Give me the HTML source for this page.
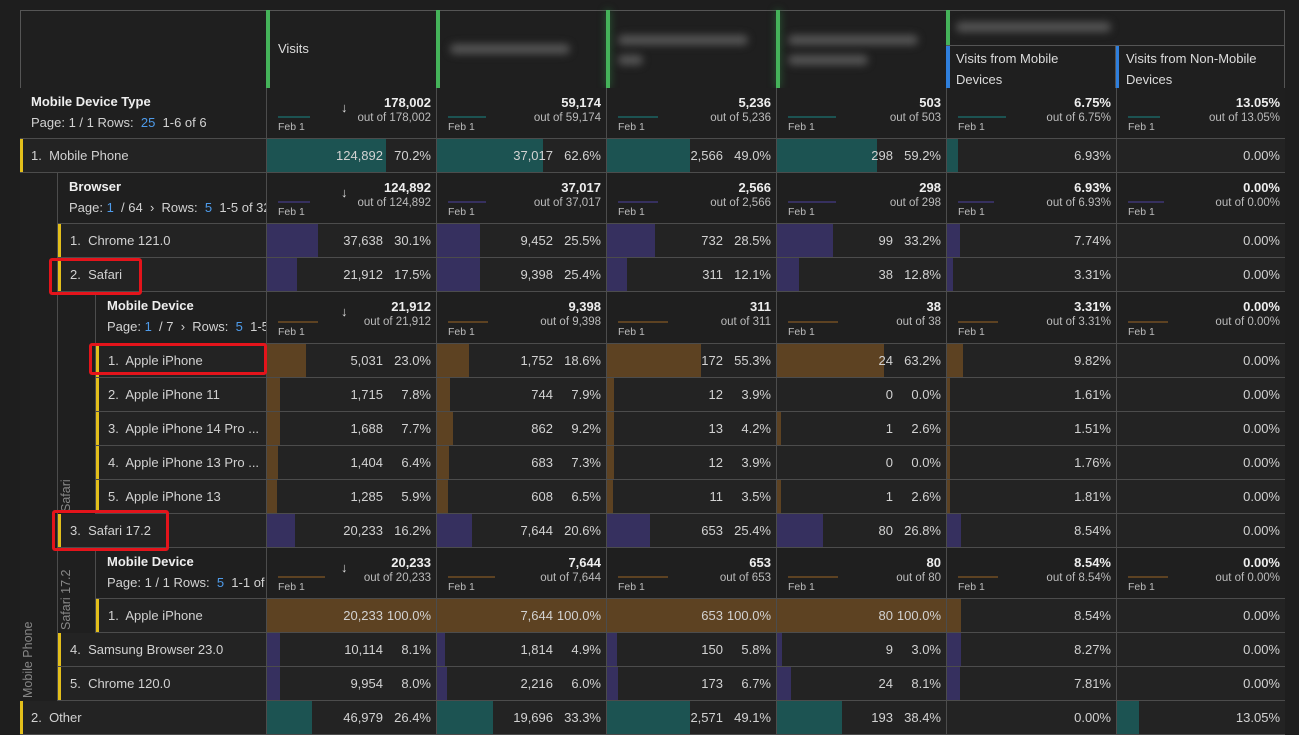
<!DOCTYPE html>
<html><head><meta charset="utf-8"><style>
body{margin:0;width:1299px;height:721px;background:#1e1e1e;overflow:hidden;font-family:"Liberation Sans",sans-serif;color:#d2d2d2;font-size:13px}
.a{position:absolute;box-sizing:border-box}
.row{position:absolute;display:flex;border-bottom:1px solid #4c4c4c;box-sizing:border-box;background:#232323}
.lab{position:relative;box-sizing:border-box;border-left:3px solid #e3bf1b;padding-left:9px;display:flex;align-items:center;white-space:nowrap;overflow:hidden}
.m{position:relative;width:170px;flex:0 0 170px;border-left:1px solid #4c4c4c;box-sizing:border-box;overflow:hidden}
.m:last-child{width:169px;flex-basis:169px}
.b{position:absolute;left:0;top:0;bottom:0}
.v{position:absolute;right:5px;top:0;bottom:0;display:flex;align-items:center;white-space:nowrap}
.v i{font-style:normal;display:inline-block;min-width:48px;text-align:right}
.T .lab{border-left:none;display:block;padding-top:6px}
.T .lab b{display:block;color:#eee;margin-bottom:6px}
.t b{position:absolute;right:5px;top:7px;color:#eee}
.t s{position:absolute;right:5px;top:24px;text-decoration:none;font-size:11.5px;color:#bbb}
.t u{position:absolute;left:11px;bottom:5px;text-decoration:none;font-size:10.5px;color:#bbb}
.t em{position:absolute;left:11px;bottom:20px;height:2px}
.ar{position:absolute;left:74px;top:12px;font-size:13px;color:#ddd;font-style:normal}
.bl{color:#4e9bea}
.tl{background:#1c5352}.pu{background:#36305f}.br{background:#5d4222}
.vt{position:absolute;transform:rotate(-90deg);transform-origin:left top;white-space:nowrap;color:#888;font-size:12.5px}
.red{position:absolute;border:3px solid #e4141b;border-radius:3px;box-sizing:border-box}
.blur{position:absolute;height:10px;background:#555;filter:blur(4px);border-radius:5px}
</style></head><body>
<!-- outer table frame -->
<div class="a" style="left:20px;top:10px;width:1265px;height:711px;border:1px solid #555;border-bottom:none;background:#232323"></div>
<!-- header -->
<div class="a" style="left:20px;top:10px;width:1265px;height:79px;border:1px solid #555;background:#1f1f1f"></div>
<div class="a" style="left:266px;top:10px;width:4px;height:78px;background:#45b35a"></div>
<div class="a" style="left:278px;top:41px;color:#ddd">Visits</div>
<div class="a" style="left:436px;top:10px;width:4px;height:78px;background:#45b35a"></div>
<div class="blur" style="left:450px;top:44px;width:120px"></div>
<div class="a" style="left:606px;top:10px;width:4px;height:78px;background:#45b35a;box-shadow:0 0 8px #2a6a3a"></div>
<div class="blur" style="left:618px;top:35px;width:130px"></div><div class="blur" style="left:618px;top:55px;width:25px"></div>
<div class="a" style="left:776px;top:10px;width:4px;height:78px;background:#45b35a;box-shadow:0 0 8px #2a6a3a"></div>
<div class="blur" style="left:788px;top:35px;width:130px"></div><div class="blur" style="left:788px;top:55px;width:80px"></div>
<div class="a" style="left:946px;top:10px;width:4px;height:35px;background:#45b35a"></div>
<div class="blur" style="left:956px;top:22px;width:155px"></div>
<div class="a" style="left:946px;top:45px;width:339px;height:1px;background:#555"></div>
<div class="a" style="left:946px;top:46px;width:4px;height:42px;background:#2f7fdc"></div>
<div class="a" style="left:956px;top:48px;line-height:21px;color:#ddd">Visits from Mobile<br>Devices</div>
<div class="a" style="left:1115px;top:46px;width:4px;height:42px;background:#2f7fdc"></div>
<div class="a" style="left:1115px;top:45px;width:1px;height:43px;background:#555"></div>
<div class="a" style="left:1126px;top:48px;line-height:21px;color:#ddd">Visits from Non-Mobile<br>Devices</div>

<!-- left bands -->
<div class="a" style="left:20px;top:173px;width:38px;height:528px;background:#1f1f1f;border-right:1px solid #4c4c4c"></div>
<div class="vt" style="left:21px;top:698px">Mobile Phone</div>
<div class="a" style="left:58px;top:292px;width:38px;height:222px;background:#1f1f1f;border-right:1px solid #4c4c4c"></div>
<div class="vt" style="left:59px;top:512px">Safari</div>
<div class="a" style="left:58px;top:548px;width:38px;height:85px;background:#1f1f1f;border-right:1px solid #4c4c4c"></div>
<div class="vt" style="left:59px;top:630px">Safari 17.2</div>

<!-- MDT total -->
<div class="row T" style="left:20px;top:88px;height:51px;width:1265px;background:#1f1f1f">
<div class="lab" style="width:246px;padding-left:11px"><b>Mobile Device Type</b>Page: 1 / 1 Rows: &nbsp;<span class="bl">25</span> &nbsp;1-6 of 6</div>
<div class="m t"><em class="tl" style="width:32px"></em><u>Feb 1</u><i class="ar">↓</i><b>178,002</b><s>out of 178,002</s></div>
<div class="m t"><em class="tl" style="width:38px"></em><u>Feb 1</u><b>59,174</b><s>out of 59,174</s></div>
<div class="m t"><em class="tl" style="width:40px"></em><u>Feb 1</u><b>5,236</b><s>out of 5,236</s></div>
<div class="m t"><em class="tl" style="width:48px"></em><u>Feb 1</u><b>503</b><s>out of 503</s></div>
<div class="m t"><em class="tl" style="width:48px"></em><u>Feb 1</u><b>6.75%</b><s>out of 6.75%</s></div>
<div class="m t"><em class="tl" style="width:32px"></em><u>Feb 1</u><b>13.05%</b><s>out of 13.05%</s></div>
</div>
<!-- Mobile Phone -->
<div class="row" style="left:20px;top:139px;height:34px;width:1265px">
<div class="lab" style="width:246px;padding-left:8px">1.&nbsp; Mobile Phone</div>
<div class="m"><div class="b tl" style="width:119px"></div><div class="v">124,892<i>70.2%</i></div></div>
<div class="m"><div class="b tl" style="width:106px"></div><div class="v">37,017<i>62.6%</i></div></div>
<div class="m"><div class="b tl" style="width:83px"></div><div class="v">2,566<i>49.0%</i></div></div>
<div class="m"><div class="b tl" style="width:100px"></div><div class="v">298<i>59.2%</i></div></div>
<div class="m"><div class="b tl" style="width:11px"></div><div class="v">6.93%</div></div>
<div class="m"><div class="v">0.00%</div></div>
</div>
<!-- Browser header -->
<div class="row T" style="left:58px;top:173px;height:51px;width:1227px;background:#1f1f1f">
<div class="lab" style="width:208px;padding-left:11px"><b>Browser</b>Page: <span class="bl">1</span> &nbsp;/ 64 &nbsp;› &nbsp;Rows: &nbsp;<span class="bl">5</span> &nbsp;1-5 of 320</div>
<div class="m t"><em class="pu" style="width:32px"></em><u>Feb 1</u><i class="ar">↓</i><b>124,892</b><s>out of 124,892</s></div>
<div class="m t"><em class="pu" style="width:38px"></em><u>Feb 1</u><b>37,017</b><s>out of 37,017</s></div>
<div class="m t"><em class="pu" style="width:40px"></em><u>Feb 1</u><b>2,566</b><s>out of 2,566</s></div>
<div class="m t"><em class="pu" style="width:48px"></em><u>Feb 1</u><b>298</b><s>out of 298</s></div>
<div class="m t"><em class="pu" style="width:36px"></em><u>Feb 1</u><b>6.93%</b><s>out of 6.93%</s></div>
<div class="m t"><em class="pu" style="width:36px"></em><u>Feb 1</u><b>0.00%</b><s>out of 0.00%</s></div>
</div>
<!-- Chrome 121 -->
<div class="row" style="left:58px;top:224px;height:34px;width:1227px">
<div class="lab" style="width:208px">1.&nbsp; Chrome 121.0</div>
<div class="m"><div class="b pu" style="width:51px"></div><div class="v">37,638<i>30.1%</i></div></div>
<div class="m"><div class="b pu" style="width:43px"></div><div class="v">9,452<i>25.5%</i></div></div>
<div class="m"><div class="b pu" style="width:48px"></div><div class="v">732<i>28.5%</i></div></div>
<div class="m"><div class="b pu" style="width:56px"></div><div class="v">99<i>33.2%</i></div></div>
<div class="m"><div class="b pu" style="width:13px"></div><div class="v">7.74%</div></div>
<div class="m"><div class="v">0.00%</div></div>
</div>
<!-- Safari -->
<div class="row" style="left:58px;top:258px;height:34px;width:1227px">
<div class="lab" style="width:208px">2.&nbsp; Safari</div>
<div class="m"><div class="b pu" style="width:30px"></div><div class="v">21,912<i>17.5%</i></div></div>
<div class="m"><div class="b pu" style="width:43px"></div><div class="v">9,398<i>25.4%</i></div></div>
<div class="m"><div class="b pu" style="width:20px"></div><div class="v">311<i>12.1%</i></div></div>
<div class="m"><div class="b pu" style="width:22px"></div><div class="v">38<i>12.8%</i></div></div>
<div class="m"><div class="b pu" style="width:6px"></div><div class="v">3.31%</div></div>
<div class="m"><div class="v">0.00%</div></div>
</div>
<!-- MD header -->
<div class="row T" style="left:96px;top:292px;height:52px;width:1189px;background:#1f1f1f">
<div class="lab" style="width:170px;padding-left:11px"><b>Mobile Device</b>Page: <span class="bl">1</span> &nbsp;/ 7 &nbsp;› &nbsp;Rows: &nbsp;<span class="bl">5</span> &nbsp;1-5 of</div>
<div class="m t"><em class="br" style="width:40px"></em><u>Feb 1</u><i class="ar">↓</i><b>21,912</b><s>out of 21,912</s></div>
<div class="m t"><em class="br" style="width:40px"></em><u>Feb 1</u><b>9,398</b><s>out of 9,398</s></div>
<div class="m t"><em class="br" style="width:50px"></em><u>Feb 1</u><b>311</b><s>out of 311</s></div>
<div class="m t"><em class="br" style="width:50px"></em><u>Feb 1</u><b>38</b><s>out of 38</s></div>
<div class="m t"><em class="br" style="width:40px"></em><u>Feb 1</u><b>3.31%</b><s>out of 3.31%</s></div>
<div class="m t"><em class="br" style="width:40px"></em><u>Feb 1</u><b>0.00%</b><s>out of 0.00%</s></div>
</div>
<!-- devices -->
<div class="row" style="left:96px;top:344px;height:34px;width:1189px">
<div class="lab" style="width:170px">1.&nbsp; Apple iPhone</div>
<div class="m"><div class="b br" style="width:39px"></div><div class="v">5,031<i>23.0%</i></div></div>
<div class="m"><div class="b br" style="width:32px"></div><div class="v">1,752<i>18.6%</i></div></div>
<div class="m"><div class="b br" style="width:94px"></div><div class="v">172<i>55.3%</i></div></div>
<div class="m"><div class="b br" style="width:107px"></div><div class="v">24<i>63.2%</i></div></div>
<div class="m"><div class="b br" style="width:16px"></div><div class="v">9.82%</div></div>
<div class="m"><div class="v">0.00%</div></div>
</div>
<div class="row" style="left:96px;top:378px;height:34px;width:1189px">
<div class="lab" style="width:170px">2.&nbsp; Apple iPhone 11</div>
<div class="m"><div class="b br" style="width:13px"></div><div class="v">1,715<i>7.8%</i></div></div>
<div class="m"><div class="b br" style="width:13px"></div><div class="v">744<i>7.9%</i></div></div>
<div class="m"><div class="b br" style="width:7px"></div><div class="v">12<i>3.9%</i></div></div>
<div class="m"><div class="v">0<i>0.0%</i></div></div>
<div class="m"><div class="b br" style="width:3px"></div><div class="v">1.61%</div></div>
<div class="m"><div class="v">0.00%</div></div>
</div>
<div class="row" style="left:96px;top:412px;height:34px;width:1189px">
<div class="lab" style="width:170px">3.&nbsp; Apple iPhone 14 Pro ...</div>
<div class="m"><div class="b br" style="width:13px"></div><div class="v">1,688<i>7.7%</i></div></div>
<div class="m"><div class="b br" style="width:16px"></div><div class="v">862<i>9.2%</i></div></div>
<div class="m"><div class="b br" style="width:7px"></div><div class="v">13<i>4.2%</i></div></div>
<div class="m"><div class="b br" style="width:4px"></div><div class="v">1<i>2.6%</i></div></div>
<div class="m"><div class="b br" style="width:3px"></div><div class="v">1.51%</div></div>
<div class="m"><div class="v">0.00%</div></div>
</div>
<div class="row" style="left:96px;top:446px;height:34px;width:1189px">
<div class="lab" style="width:170px">4.&nbsp; Apple iPhone 13 Pro ...</div>
<div class="m"><div class="b br" style="width:11px"></div><div class="v">1,404<i>6.4%</i></div></div>
<div class="m"><div class="b br" style="width:12px"></div><div class="v">683<i>7.3%</i></div></div>
<div class="m"><div class="b br" style="width:7px"></div><div class="v">12<i>3.9%</i></div></div>
<div class="m"><div class="v">0<i>0.0%</i></div></div>
<div class="m"><div class="b br" style="width:3px"></div><div class="v">1.76%</div></div>
<div class="m"><div class="v">0.00%</div></div>
</div>
<div class="row" style="left:96px;top:480px;height:34px;width:1189px">
<div class="lab" style="width:170px">5.&nbsp; Apple iPhone 13</div>
<div class="m"><div class="b br" style="width:10px"></div><div class="v">1,285<i>5.9%</i></div></div>
<div class="m"><div class="b br" style="width:11px"></div><div class="v">608<i>6.5%</i></div></div>
<div class="m"><div class="b br" style="width:6px"></div><div class="v">11<i>3.5%</i></div></div>
<div class="m"><div class="b br" style="width:4px"></div><div class="v">1<i>2.6%</i></div></div>
<div class="m"><div class="b br" style="width:3px"></div><div class="v">1.81%</div></div>
<div class="m"><div class="v">0.00%</div></div>
</div>
<!-- Safari 17.2 -->
<div class="row" style="left:58px;top:514px;height:34px;width:1227px">
<div class="lab" style="width:208px">3.&nbsp; Safari 17.2</div>
<div class="m"><div class="b pu" style="width:28px"></div><div class="v">20,233<i>16.2%</i></div></div>
<div class="m"><div class="b pu" style="width:35px"></div><div class="v">7,644<i>20.6%</i></div></div>
<div class="m"><div class="b pu" style="width:43px"></div><div class="v">653<i>25.4%</i></div></div>
<div class="m"><div class="b pu" style="width:46px"></div><div class="v">80<i>26.8%</i></div></div>
<div class="m"><div class="b pu" style="width:14px"></div><div class="v">8.54%</div></div>
<div class="m"><div class="v">0.00%</div></div>
</div>
<div class="row T" style="left:96px;top:548px;height:51px;width:1189px;background:#1f1f1f">
<div class="lab" style="width:170px;padding-left:11px"><b>Mobile Device</b>Page: 1 / 1 Rows: &nbsp;<span class="bl">5</span> &nbsp;1-1 of 1</div>
<div class="m t"><em class="br" style="width:47px"></em><u>Feb 1</u><i class="ar">↓</i><b>20,233</b><s>out of 20,233</s></div>
<div class="m t"><em class="br" style="width:47px"></em><u>Feb 1</u><b>7,644</b><s>out of 7,644</s></div>
<div class="m t"><em class="br" style="width:50px"></em><u>Feb 1</u><b>653</b><s>out of 653</s></div>
<div class="m t"><em class="br" style="width:50px"></em><u>Feb 1</u><b>80</b><s>out of 80</s></div>
<div class="m t"><em class="br" style="width:40px"></em><u>Feb 1</u><b>8.54%</b><s>out of 8.54%</s></div>
<div class="m t"><em class="br" style="width:40px"></em><u>Feb 1</u><b>0.00%</b><s>out of 0.00%</s></div>
</div>
<div class="row" style="left:96px;top:599px;height:34px;width:1189px">
<div class="lab" style="width:170px">1.&nbsp; Apple iPhone</div>
<div class="m"><div class="b br" style="width:170px"></div><div class="v">20,233<i>100.0%</i></div></div>
<div class="m"><div class="b br" style="width:170px"></div><div class="v">7,644<i>100.0%</i></div></div>
<div class="m"><div class="b br" style="width:170px"></div><div class="v">653<i>100.0%</i></div></div>
<div class="m"><div class="b br" style="width:170px"></div><div class="v">80<i>100.0%</i></div></div>
<div class="m"><div class="b br" style="width:14px"></div><div class="v">8.54%</div></div>
<div class="m"><div class="v">0.00%</div></div>
</div>
<div class="row" style="left:58px;top:633px;height:34px;width:1227px">
<div class="lab" style="width:208px">4.&nbsp; Samsung Browser 23.0</div>
<div class="m"><div class="b pu" style="width:13px"></div><div class="v">10,114<i>8.1%</i></div></div>
<div class="m"><div class="b pu" style="width:8px"></div><div class="v">1,814<i>4.9%</i></div></div>
<div class="m"><div class="b pu" style="width:10px"></div><div class="v">150<i>5.8%</i></div></div>
<div class="m"><div class="b pu" style="width:5px"></div><div class="v">9<i>3.0%</i></div></div>
<div class="m"><div class="b pu" style="width:14px"></div><div class="v">8.27%</div></div>
<div class="m"><div class="v">0.00%</div></div>
</div>
<div class="row" style="left:58px;top:667px;height:34px;width:1227px">
<div class="lab" style="width:208px">5.&nbsp; Chrome 120.0</div>
<div class="m"><div class="b pu" style="width:13px"></div><div class="v">9,954<i>8.0%</i></div></div>
<div class="m"><div class="b pu" style="width:10px"></div><div class="v">2,216<i>6.0%</i></div></div>
<div class="m"><div class="b pu" style="width:11px"></div><div class="v">173<i>6.7%</i></div></div>
<div class="m"><div class="b pu" style="width:14px"></div><div class="v">24<i>8.1%</i></div></div>
<div class="m"><div class="b pu" style="width:13px"></div><div class="v">7.81%</div></div>
<div class="m"><div class="v">0.00%</div></div>
</div>
<div class="row" style="left:20px;top:701px;height:34px;width:1265px">
<div class="lab" style="width:246px;padding-left:8px">2.&nbsp; Other</div>
<div class="m"><div class="b tl" style="width:45px"></div><div class="v">46,979<i>26.4%</i></div></div>
<div class="m"><div class="b tl" style="width:56px"></div><div class="v">19,696<i>33.3%</i></div></div>
<div class="m"><div class="b tl" style="width:83px"></div><div class="v">2,571<i>49.1%</i></div></div>
<div class="m"><div class="b tl" style="width:65px"></div><div class="v">193<i>38.4%</i></div></div>
<div class="m"><div class="v">0.00%</div></div>
<div class="m"><div class="b tl" style="width:22px"></div><div class="v">13.05%</div></div>
</div>

<!-- red highlight boxes -->
<div class="red" style="left:49px;top:258px;width:93px;height:37px"></div>
<div class="red" style="left:89px;top:343px;width:178px;height:32px"></div>
<div class="red" style="left:52px;top:510px;width:117px;height:41px"></div>
</body></html>
